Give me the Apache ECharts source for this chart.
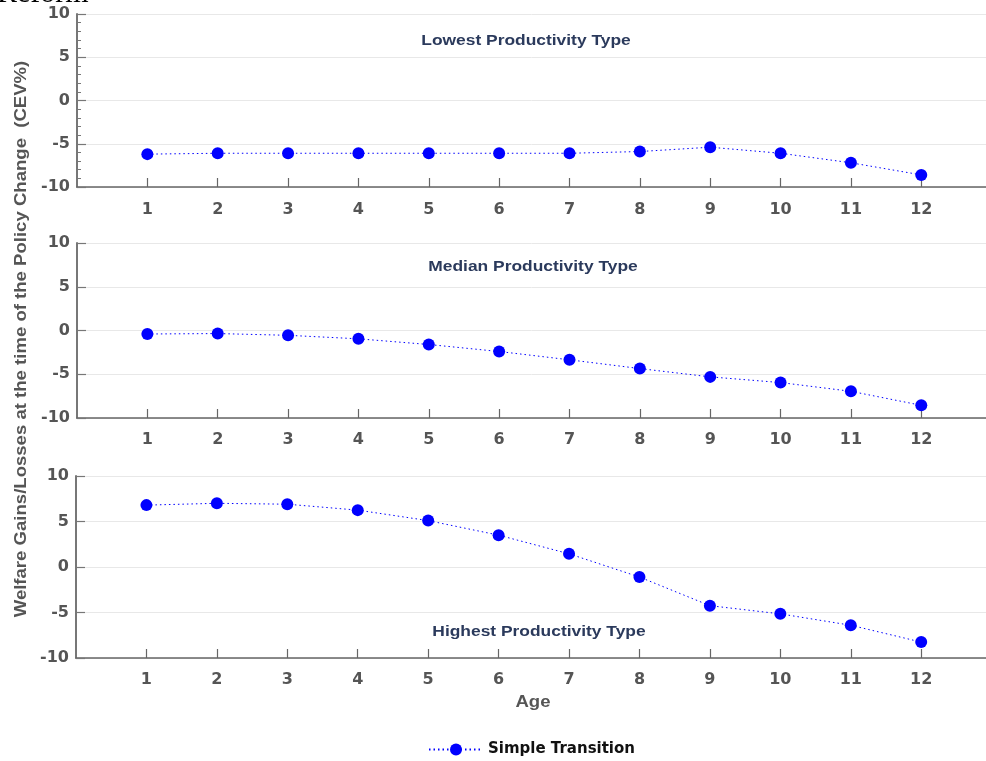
<!DOCTYPE html>
<html>
<head>
<meta charset="utf-8">
<script src="https://cdn.jsdelivr.net/npm/echarts@6/dist/echarts.min.js"></script>
<style>
  html, body { margin: 0; padding: 0; background: #fff; }
  #chart { width: 986px; height: 761px; }
</style>
</head>
<body>
<div id="chart"></div>
<script>
// Age groups on the horizontal axis
const ages = [1, 2, 3, 4, 5, 6, 7, 8, 9, 10, 11, 12];

// Consumption-equivalent welfare change (CEV %) by productivity type
const lowestType  = [-6.2, -6.1, -6.1, -6.1, -6.1, -6.1, -6.1, -5.9, -5.4, -6.1, -7.2, -8.6];
const medianType  = [-0.4, -0.35, -0.55, -0.95, -1.6, -2.4, -3.35, -4.35, -5.3, -5.95, -6.95, -8.55];
const highestType = [6.8, 7.0, 6.9, 6.25, 5.1, 3.5, 1.45, -1.1, -4.25, -5.15, -6.4, -8.25];

const yTicks = [-10, -5, 0, 5, 10];
const panelTitles = ['Lowest Productivity Type', 'Median Productivity Type', 'Highest Productivity Type'];
const seriesName = 'Simple Transition';

const FONT = '"Liberation Sans", Arial, Helvetica, sans-serif';
const WIDE_FONT = '"DejaVu Sans", Verdana, sans-serif';
const AXIS_TEXT = '#555555';
const TITLE_NAVY = '#2b3a5c';
const BLUE = '#0000ff';
const STRETCH = 1.16;

// The age axis runs past the right edge of the canvas; it is cut at 12.92
const X_MAX = 12.92;

const grids = [
  { left: 77, right: 0, top: 14,  height: 173 },
  { left: 77, right: 0, top: 243, height: 175 },
  { left: 76, right: 0, top: 476, height: 182 }
];

function xAxisFor(i, margin) {
  return {
    type: 'value', gridIndex: i, min: 0, max: X_MAX,
    axisLine: { show: true, onZero: false, lineStyle: { color: '#666666', width: 1.5 } },
    axisTick: { show: true, inside: true, length: 9, customValues: ages,
                lineStyle: { color: '#666666', width: 1.2 } },
    axisLabel: { show: true, customValues: ages, margin: margin,
                 color: AXIS_TEXT, fontWeight: 'bold', fontSize: 16, fontFamily: WIDE_FONT },
    splitLine: { show: false }
  };
}

function yAxisFor(i, withMinor) {
  return {
    type: 'value', gridIndex: i, min: yTicks[0], max: yTicks[yTicks.length - 1], interval: 5,
    axisLine: { show: true, onZero: false, lineStyle: { color: '#777777', width: 2 } },
    axisTick: { show: true, inside: true, length: 9, lineStyle: { color: '#777777', width: 1.2 } },
    minorTick: { show: withMinor, splitNumber: 5, length: 4, lineStyle: { color: '#777777', width: 1 } },
    axisLabel: { margin: 7, color: AXIS_TEXT, fontWeight: 'bold', fontSize: 16, fontFamily: WIDE_FONT },
    splitLine: { show: true, lineStyle: { color: '#e8e8e8', width: 1 } }
  };
}

function lineSeries(i, values) {
  return {
    name: seriesName, type: 'line', xAxisIndex: i, yAxisIndex: i,
    data: ages.map((a, k) => [a, values[k]]),
    symbol: 'circle', symbolSize: 12,
    itemStyle: { color: BLUE },
    lineStyle: { color: BLUE, width: 1, type: [1.5, 3] },
    emphasis: { disabled: true },
    z: 3
  };
}

function label(text, x, y, opts) {
  opts = opts || {};
  return {
    type: 'text', x: x, y: y, rotation: opts.rotation || 0,
    scaleX: opts.scaleX || STRETCH,
    style: Object.assign({
      text: text, fontFamily: FONT, fontWeight: 'bold', fontSize: 15,
      fill: TITLE_NAVY, align: 'center', verticalAlign: 'middle'
    }, opts.style || {})
  };
}

const chart = echarts.init(document.getElementById('chart'), null, { renderer: 'canvas' });
chart.setOption({
  animation: false,
  backgroundColor: '#ffffff',
  grid: grids,
  xAxis: [xAxisFor(0, 15), xAxisFor(1, 14), xAxisFor(2, 14)],
  yAxis: [yAxisFor(0, true), yAxisFor(1, false), yAxisFor(2, false)],
  series: [lineSeries(0, lowestType), lineSeries(1, medianType), lineSeries(2, highestType)],
  legend: {
    data: [seriesName], top: 737, left: 423,
    itemWidth: 54, itemHeight: 15, itemGap: 8,
    textStyle: { color: '#111111', fontWeight: 'bold', fontSize: 15, fontFamily: WIDE_FONT }
  },
  graphic: [
    label('Reform', -3, 9, { scaleX: 1, style: { fontFamily: '"Liberation Serif", "Times New Roman", serif',
      fontWeight: 'normal', fontSize: 30, fill: '#000000', align: 'left', verticalAlign: 'bottom' } }),
    label(panelTitles[0], 526, 41),
    label(panelTitles[1], 533, 267),
    label(panelTitles[2], 539, 632),
    label('Age', 533, 703, { style: { fill: AXIS_TEXT, fontSize: 16 } }),
    label('Welfare Gains/Losses at the time of the Policy Change  (CEV%)', 22, 339,
      { rotation: Math.PI / 2, style: { fill: AXIS_TEXT, fontSize: 16 } })
  ]
});
</script>
</body>
</html>
